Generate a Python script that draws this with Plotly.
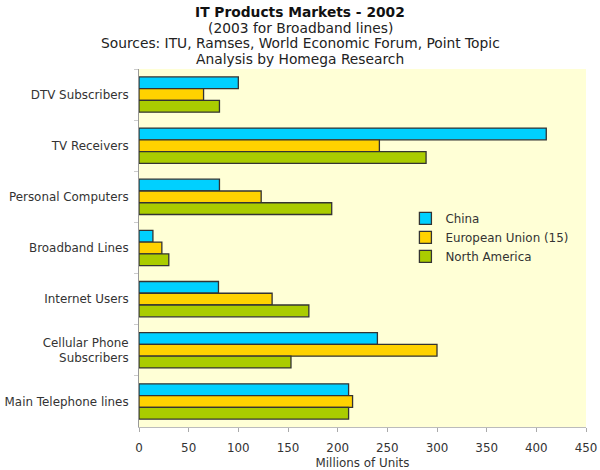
import plotly.graph_objects as go

categories = ["DTV Subscribers", "TV Receivers", "Personal Computers", "Broadband Lines",
              "Internet Users", "Cellular Phone<br>Subscribers", "Main Telephone lines"]
china = [100, 410, 81, 14, 80, 240, 211]
eu15 = [65, 242, 123, 23, 134, 300, 215]
north_america = [81, 289, 194, 30, 171, 153, 211]
x_ticks = [0, 50, 100, 150, 200, 250, 300, 350, 400, 450]
title_lines = ["<b>IT Products Markets - 2002</b>", "(2003 for Broadband lines)",
               "Sources: ITU, Ramses, World Economic Forum, Point Topic",
               "Analysis by Homega Research"]

FONT = "DejaVu Sans"
series = [("China", china, "#00D0FF"),
          ("European Union (15)", eu15, "#FFD200"),
          ("North America", north_america, "#AACC00")]

fig = go.Figure()
for name, vals, col in series:
    fig.add_trace(go.Bar(y=categories, x=vals, name=name, orientation="h",
                         marker=dict(color=col, line=dict(color="#333333", width=1.3))))

plot_left, plot_right = 139, 586
plot_top, plot_bot = 69, 427
for i, (txt, ypix) in enumerate(zip(title_lines, [12, 28, 43, 59])):
    fig.add_annotation(text=txt, xref="paper", yref="paper",
                       x=(300 - plot_left) / (plot_right - plot_left), xanchor="center",
                       y=(plot_bot - ypix) / (plot_bot - plot_top), yanchor="middle",
                       showarrow=False,
                       font=dict(family=FONT, size=13.8, color="#111111" if i == 0 else "#222222"))

fig.update_layout(
    width=600, height=470,
    margin=dict(l=plot_left, r=600 - plot_right, t=plot_top, b=470 - plot_bot, autoexpand=False),
    paper_bgcolor="white", plot_bgcolor="#FFFFD6",
    font=dict(family=FONT, size=11.9, color="#333333"),
    barmode="group", bargap=0.31, bargroupgap=0,
    legend=dict(x=0.596, y=0.623, xanchor="left", yanchor="top",
                bgcolor="rgba(0,0,0,0)", font=dict(family=FONT, size=11.9, color="#333333"),
                itemwidth=30, tracegroupgap=0),
    xaxis=dict(range=[0, 450], tickvals=x_ticks, ticks="outside", ticklen=4, automargin=False,
               ticklabelstandoff=6,
               tickcolor="#aaaaaa", showline=True, linecolor="#bbbbbb", showgrid=False,
               zeroline=False, title=dict(text="Millions of Units", standoff=4,
                                          font=dict(family=FONT, size=11.9, color="#333333"))),
    yaxis=dict(autorange="reversed", ticks="outside", tickson="boundaries", ticklen=4,
               automargin=False, ticklabelstandoff=7,
               tickcolor="#cccccc", showline=True, linecolor="#999999", showgrid=False),
)

fig.write_html("out.html", config={"displayModeBar": False},
               post_script="document.body.style.margin='0';")
